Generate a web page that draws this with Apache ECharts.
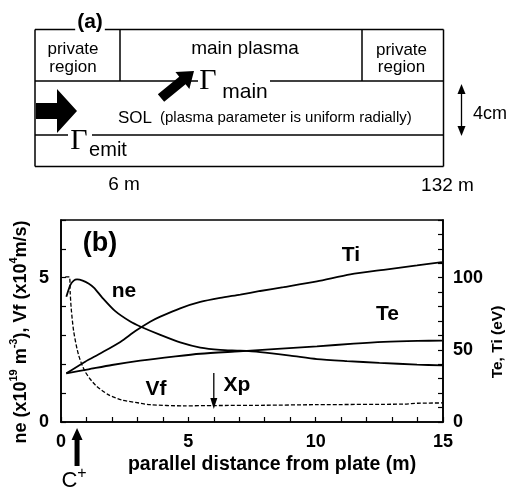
<!DOCTYPE html>
<html><head><meta charset="utf-8">
<script src="https://cdn.jsdelivr.net/npm/echarts@6/dist/echarts.min.js"></script>
<style>html,body{margin:0;padding:0;background:#fff}#c{width:508px;height:491px}</style>
</head><body><div id="c"></div>
<script>
// ---- data (panel b) ----
// ne (x10^19 m^-3), left axis
const neData = [[0.21,4.34],[0.37,4.75],[0.5,4.9],[0.63,4.94],[0.85,4.9],[1.08,4.8],[1.3,4.65],[1.61,4.32],[2.13,3.84],[2.72,3.48],[3.11,3.31],[3.9,3.02],[4.68,2.76],[5.47,2.58],[6.25,2.5],[7.04,2.47],[7.82,2.42],[9.0,2.3],[10.05,2.18],[11.23,2.11],[12.5,2.05],[13.98,1.99],[14.96,1.96]];
// Vf (x10^4 m/s), left axis
const vfData = [[0.17,5.03],[0.33,5.03],[0.36,4.5],[0.4,3.94],[0.5,3.13],[0.69,2.32],[0.95,1.74],[1.35,1.28],[1.87,0.94],[2.39,0.76],[2.92,0.68],[3.5,0.6],[4.8,0.56],[6.0,0.57],[8.0,0.58],[10.0,0.6],[13.5,0.62],[14.0,0.65],[15.0,0.66]];
// Te (eV), right axis
const teData = [[0.21,33.7],[1.08,36.5],[2.0,39.5],[3.11,42.5],[4.5,45.5],[5.47,47.3],[7.0,49],[8.5,50.7],[10.05,52.4],[11.5,54.3],[12.67,55.5],[14.0,56.2],[14.96,56.4]];
// Ti (eV), right axis
const tiData = [[0.21,33.7],[0.95,41.8],[1.54,47.5],[2.33,55.5],[2.92,63],[3.5,69.5],[3.9,73],[4.68,78.8],[5.47,83.2],[6.25,86],[7.04,88.3],[7.82,90.8],[8.74,93.5],[10.05,97.5],[11.36,102.3],[12.67,105.5],[13.98,108.5],[14.96,110.8]];
// tick labels
const xTickLabels = [0, 5, 10, 15];
const leftTickLabels = [0, 5];
const rightTickLabels = [0, 50, 100];
// annotation positions (data x)
const xpPosition = 6;
const cPlusPosition = 0.63;

const F = '"Liberation Sans", Arial, Helvetica, sans-serif';
const SERIF = '"Liberation Serif", "Times New Roman", serif';

const chart = echarts.init(document.getElementById('c'), null, {renderer: 'canvas'});

const axisCommon = {
  axisLine: {show: true, lineStyle: {color: '#000', width: 1.6}},
  axisTick: {show: true, inside: true, length: 5, lineStyle: {color: '#000', width: 1.2}},
  splitLine: {show: false}
};

chart.setOption({
  animation: false,
  backgroundColor: '#fff',
  grid: {left: 61, right: 65, top: 220, bottom: 69, show: true, borderColor: '#000', borderWidth: 1.6, backgroundColor: 'transparent'},
  xAxis: Object.assign({
    type: 'value', min: 0, max: 15, interval: 1,
    axisLabel: {margin: 11, color: '#000', fontFamily: F, fontWeight: 'bold', fontSize: 18,
      formatter: v => xTickLabels.includes(v) ? String(v) : ''}
  }, axisCommon),
  yAxis: [
    Object.assign({
      type: 'value', min: 0, max: 7, interval: 1, position: 'left',
      axisLabel: {margin: 12, color: '#000', fontFamily: F, fontWeight: 'bold', fontSize: 18,
        formatter: v => leftTickLabels.includes(v) ? String(v) : ''}
    }, axisCommon),
    Object.assign({
      type: 'value', min: 0, max: 140, interval: 10, position: 'right',
      axisLabel: {margin: 10, color: '#000', fontFamily: F, fontWeight: 'bold', fontSize: 18,
        formatter: v => rightTickLabels.includes(v) ? String(v) : ''}
    }, axisCommon)
  ],
  series: [
    {name: 'ne', type: 'line', yAxisIndex: 0, data: neData, smooth: 0.25, symbol: 'none',
      lineStyle: {color: '#000', width: 1.8}},
    {name: 'Vf', type: 'line', yAxisIndex: 0, data: vfData, smooth: 0.25, symbol: 'none',
      lineStyle: {color: '#000', width: 1.3, type: [4, 2]}},
    {name: 'Te', type: 'line', yAxisIndex: 1, data: teData, smooth: 0.25, symbol: 'none',
      lineStyle: {color: '#000', width: 1.8}},
    {name: 'Ti', type: 'line', yAxisIndex: 1, data: tiData, smooth: 0.25, symbol: 'none',
      lineStyle: {color: '#000', width: 1.8}}
  ]
});

// ---- graphics ----
const G = [];
const ln = (x1, y1, x2, y2, w) => G.push({type: 'line', shape: {x1, y1, x2, y2}, style: {stroke: '#000', lineWidth: w || 1.5}, silent: true});
const txt = (text, x, y, size, opts) => G.push(Object.assign({type: 'text', x, y, silent: true,
  style: Object.assign({text, fill: '#000', font: (opts && opts.weight ? opts.weight + ' ' : '') + size + 'px ' + ((opts && opts.family) || F), align: 'center', verticalAlign: 'middle'}, (opts && opts.style) || {})}, (opts && opts.extra) || {}));

// Panel (a) schematic
const L = 35, R = 443.5, T = 29.5, B = 166.5;
ln(L, T, R, T); ln(L, T, L, B); ln(R, T, R, B); ln(L, B, R, B);
ln(L, 81, R, 81);
ln(L, 135, R, 135);
ln(120, T, 120, 81); ln(362, T, 362, 81);

txt('(a)', 90, 22, 21, {weight: 'bold', style: {backgroundColor: '#fff', padding: [0, 2]}});
txt('private', 73, 49, 17); txt('region', 73, 67, 17);
txt('main plasma', 245, 49, 19);
txt('private', 401.5, 50, 17); txt('region', 401.5, 67, 17);

// Gamma main (white box interrupts line)
G.push({type: 'rect', shape: {x: 198, y: 76, width: 72, height: 10}, style: {fill: '#fff'}, silent: true});
txt('\u0393', 208, 81, 30, {family: SERIF});
txt('main', 245, 92, 21);
// diagonal arrow
(function () {
  const tx = 161, ty = 98, px = 194, py = 71;
  const dx = px - tx, dy = py - ty, len = Math.hypot(dx, dy);
  const ux = dx / len, uy = dy / len, nx = -uy, ny = ux;
  const hl = 15, sw = 5, hw = 11;
  const hx = px - ux * hl, hy = py - uy * hl;
  G.push({type: 'polygon', silent: true, shape: {points: [
    [tx + nx * sw, ty + ny * sw], [hx + nx * sw, hy + ny * sw], [hx + nx * hw, hy + ny * hw], [px, py],
    [hx - nx * hw, hy - ny * hw], [hx - nx * sw, hy - ny * sw], [tx - nx * sw, ty - ny * sw]]}, style: {fill: '#000'}});
})();
// big right arrow
G.push({type: 'polygon', silent: true, shape: {points: [[36, 103], [57, 103], [57, 89], [77, 111], [57, 133], [57, 119], [36, 119]]}, style: {fill: '#000'}});

txt('SOL', 135, 118, 17);
txt('(plasma parameter is uniform radially)', 160, 118, 15, {style: {align: 'left'}});

// Gamma emit
G.push({type: 'rect', shape: {x: 68, y: 130, width: 24, height: 10}, style: {fill: '#fff'}, silent: true});
txt('\u0393', 79, 141, 30, {family: SERIF});
txt('emit', 108, 150, 20);

// 4cm double arrow
ln(461.5, 90, 461.5, 130, 1.3);
G.push({type: 'polygon', silent: true, shape: {points: [[461.5, 84], [457.5, 94], [465.5, 94]]}, style: {fill: '#000'}});
G.push({type: 'polygon', silent: true, shape: {points: [[461.5, 136], [457.5, 126], [465.5, 126]]}, style: {fill: '#000'}});
txt('4cm', 490, 114, 18);

txt('6 m', 124, 185, 19);
txt('132 m', 447.5, 186, 19);

// Panel (b) annotations
txt('(b)', 100, 244, 27, {weight: 'bold'});
txt('ne', 124, 291, 21, {weight: 'bold'});
txt('Ti', 351, 255, 21, {weight: 'bold'});
txt('Te', 387.5, 314, 21, {weight: 'bold'});
txt('Vf', 156, 389, 21, {weight: 'bold'});
txt('Xp', 237, 385, 21, {weight: 'bold'});

// axis titles
txt('parallel distance from plate (m)', 272, 465, 19.5, {weight: 'bold'});
txt('Te, Ti (eV)', 498, 342, 15.5, {weight: 'bold', extra: {rotation: Math.PI / 2}});
G.push({type: 'text', x: 19, y: 332, rotation: Math.PI / 2, silent: true, style: {
  text: '{a|ne (x10}{s|19}{a| m}{s|-3}{a|), Vf (x10}{s|4}{a|m/s)}',
  align: 'center', verticalAlign: 'middle', fill: '#000',
  rich: {
    a: {fontFamily: F, fontWeight: 'bold', fontSize: 18, lineHeight: 22, verticalAlign: 'bottom'},
    s: {fontFamily: F, fontWeight: 'bold', fontSize: 11, lineHeight: 22, verticalAlign: 'top', padding: [0, 0, 0, 0]}
  }}});

// data-anchored arrows
const xpTop = chart.convertToPixel({xAxisIndex: 0, yAxisIndex: 0}, [xpPosition, 1.7]);
const xpTip = chart.convertToPixel({xAxisIndex: 0, yAxisIndex: 0}, [xpPosition, 0.45]);
ln(xpTop[0], xpTop[1], xpTip[0], xpTip[1] - 8, 1.3);
G.push({type: 'polygon', silent: true, shape: {points: [[xpTip[0], xpTip[1]], [xpTip[0] - 3.5, xpTip[1] - 11], [xpTip[0] + 3.5, xpTip[1] - 11]]}, style: {fill: '#000'}});

const cp = chart.convertToPixel({xAxisIndex: 0, yAxisIndex: 0}, [cPlusPosition, 0]);
const cx = cp[0], ct = cp[1] + 6;
G.push({type: 'polygon', silent: true, shape: {points: [[cx, ct], [cx + 5.5, ct + 12], [cx + 2.5, ct + 12], [cx + 2.5, ct + 38], [cx - 2.5, ct + 38], [cx - 2.5, ct + 12], [cx - 5.5, ct + 12]]}, style: {fill: '#000'}});
G.push({type: 'text', x: cx - 3, y: 479, silent: true, style: {
  text: '{c|C}{p|+}', align: 'center', verticalAlign: 'middle', fill: '#000',
  rich: {c: {fontFamily: F, fontSize: 22, lineHeight: 26, verticalAlign: 'bottom'}, p: {fontFamily: F, fontSize: 16, lineHeight: 26, verticalAlign: 'top'}}}});

chart.setOption({graphic: {elements: G}});
</script></body></html>
